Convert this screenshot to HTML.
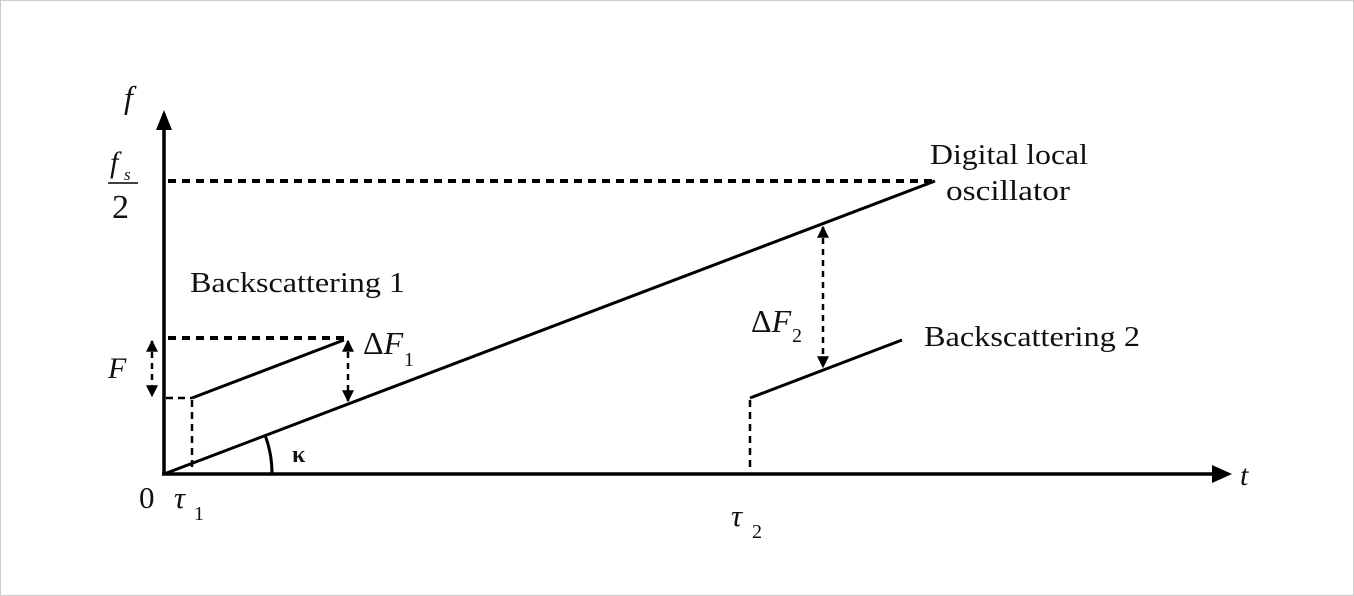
<!DOCTYPE html>
<html><head><meta charset="utf-8"><style>
html,body{margin:0;padding:0;background:#fff;}
svg{display:block;}
text{font-family:"Liberation Serif",serif;fill:#111;}
</style></head><body>
<svg width="1354" height="596" viewBox="0 0 1354 596" xmlns="http://www.w3.org/2000/svg">
<rect x="0.5" y="0.5" width="1353" height="595" fill="#fff" stroke="#ccc"/>
<defs>
<marker id="sa" viewBox="0 0 10 10" refX="9" refY="5" markerWidth="14" markerHeight="12" orient="auto-start-reverse" markerUnits="userSpaceOnUse">
<path d="M0,0 L10,5 L0,10 z" fill="#000"/></marker>
</defs>
<line x1="164" y1="474" x2="164" y2="126" stroke="#000" stroke-width="3.5"/>
<path d="M156,130 L164,110 L172,130 z" fill="#000"/>
<line x1="162" y1="474" x2="1214" y2="474" stroke="#000" stroke-width="3.5"/>
<path d="M1212,465 L1232,474 L1212,483 z" fill="#000"/>
<g stroke="#000" stroke-width="4" stroke-dasharray="8,6" fill="none">
<line x1="168" y1="181" x2="935" y2="181"/>
<line x1="168" y1="338" x2="350" y2="338"/>
</g>
<g stroke="#000" stroke-width="2.5" stroke-dasharray="7,5" fill="none">
<line x1="166" y1="398" x2="192" y2="398"/>
<line x1="192" y1="400" x2="192" y2="472"/>
<line x1="750" y1="400" x2="750" y2="472"/>
</g>
<g stroke="#000" stroke-width="3" fill="none">
<line x1="164" y1="474" x2="935" y2="181"/>
<line x1="192" y1="398" x2="344" y2="340"/>
<line x1="750" y1="398" x2="902" y2="340"/>
<path d="M272,474 A108,108 0 0 0 265,435"/>
</g>
<g stroke="#000" stroke-width="2.5" stroke-dasharray="6,5" fill="none">
<line x1="152" y1="341" x2="152" y2="396" marker-start="url(#sa)" marker-end="url(#sa)"/>
<line x1="348" y1="341" x2="348" y2="401" marker-start="url(#sa)" marker-end="url(#sa)"/>
<line x1="823" y1="227" x2="823" y2="367" marker-start="url(#sa)" marker-end="url(#sa)"/>
</g>
<text x="124" y="108" font-size="32" font-style="italic">f</text>
<text x="110" y="172" font-size="30" font-style="italic">f</text>
<text x="124" y="180" font-size="17" font-style="italic">s</text>
<line x1="108" y1="183" x2="138" y2="183" stroke="#000" stroke-width="1.5"/>
<text x="112" y="218" font-size="34">2</text>
<text x="190" y="292" font-size="28" textLength="215" lengthAdjust="spacingAndGlyphs">Backscattering 1</text>
<text x="108" y="378" font-size="30" font-style="italic">F</text>
<text x="363" y="354" font-size="32">Δ<tspan font-style="italic">F</tspan></text>
<text x="404" y="366" font-size="20">1</text>
<text x="292" y="462" font-size="24" font-weight="bold" font-family="Liberation Sans,sans-serif">κ</text>
<text x="139" y="508" font-size="31">0</text>
<text x="174" y="508" font-size="31" font-style="italic">τ</text>
<text x="194" y="520" font-size="20">1</text>
<text x="731" y="526" font-size="31" font-style="italic">τ</text>
<text x="752" y="538" font-size="20">2</text>
<text x="1240" y="485" font-size="30" font-style="italic">t</text>
<text x="751" y="332" font-size="32">Δ<tspan font-style="italic">F</tspan></text>
<text x="792" y="342" font-size="20">2</text>
<text x="924" y="346" font-size="28" textLength="216" lengthAdjust="spacingAndGlyphs">Backscattering 2</text>
<text x="930" y="164" font-size="28" textLength="158" lengthAdjust="spacingAndGlyphs">Digital local</text>
<text x="946" y="200" font-size="28" textLength="124" lengthAdjust="spacingAndGlyphs">oscillator</text>
</svg>
</body></html>
